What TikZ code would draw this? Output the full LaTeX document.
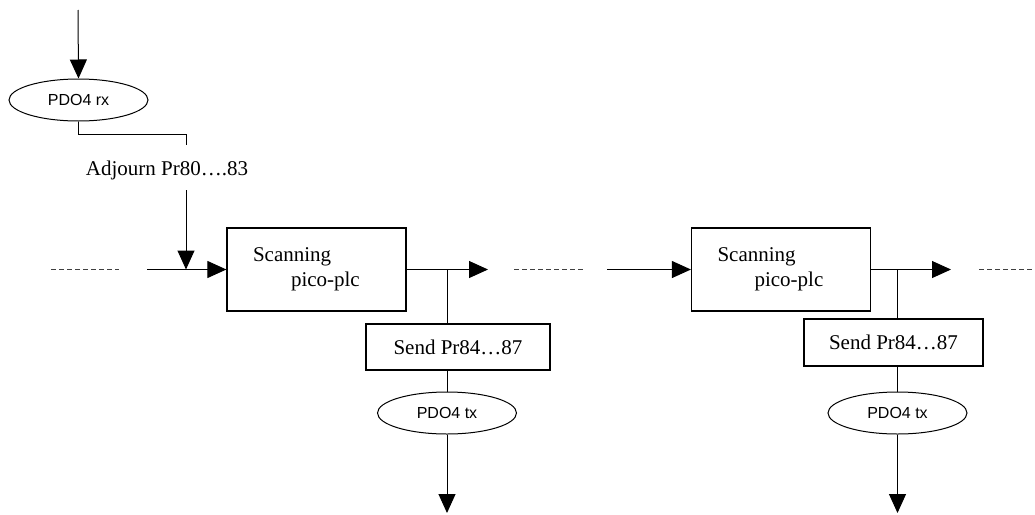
\documentclass[tikz,border=0pt]{standalone}
\usepackage{fontspec}
\setmainfont{Liberation Serif}
\newfontfamily\arialfont{Liberation Sans}
\usetikzlibrary{arrows.meta,shapes.geometric}
\begin{document}
\begin{tikzpicture}[x=1pt,y=-1pt,
  line width=1pt,
  arr/.style={-{Triangle[length=19pt,width=17pt]}},
  dashline/.style={draw=black!75,dash pattern=on 5pt off 3pt,line width=0.9pt},
  oval/.style={draw,ellipse,minimum width=139pt,minimum height=42pt,inner sep=0pt,font=\arialfont\fontsize{16}{18}\selectfont},
  scanbox/.style={draw,line width=1.2pt,rectangle,minimum width=179pt,minimum height=83pt,text width=127pt,inner xsep=26pt,inner ysep=0pt,align=left,font=\fontsize{21}{25}\selectfont},
  sendbox/.style={draw,line width=2pt,rectangle,minimum height=46pt,inner sep=0pt,font=\fontsize{21}{25}\selectfont},
  lbl/.style={inner sep=0pt,font=\fontsize{21}{25}\selectfont}
]
\useasboundingbox (0,0) rectangle (1035,514);

% top input
\coordinate (top) at (78,10);
\node[oval] (rx) at (78.5,100) {PDO4 rx};
\draw[arr] (top) -- (rx.north);
\coordinate (a1) at (186,134);
\coordinate (a2) at (186,145);
\node[lbl,anchor=base] (adj) at (167,175) {Adjourn Pr80….83};
\coordinate (a3) at (186,190);
\draw (rx.south) |- (a1) -- (a2);

% first block
\node[scanbox] (b1) at (316.5,269.5) {Scanning\\\hspace*{38pt}pico-plc};
\coordinate (d1a) at (51,269.5);
\coordinate (d1b) at (119,269.5);
\draw[dashline] (d1a) -- (d1b);
\coordinate (in1) at (147,269.5);
\coordinate (j1) at (186,269.5);
\draw[arr] (in1) -- (b1.west);
\draw[arr] (a3) -- (j1);
\coordinate (out1) at (488,269.5);
\draw[arr] (b1.east) -- (out1);
\coordinate (br1) at (447,269.5);
\node[sendbox,minimum width=184pt] (s1) at (458,347) {Send Pr84…87};
\draw (br1) -- (s1.north -| br1);
\node[oval] (tx1) at (447,413) {PDO4 tx};
\draw (s1.south -| tx1) -- (tx1.north);
\coordinate (end1) at (447,513);
\draw[arr] (tx1.south) -- (end1);

% middle dashes
\coordinate (d2a) at (514,269.5);
\coordinate (d2b) at (583,269.5);
\draw[dashline] (d2a) -- (d2b);

% second block
\node[scanbox,minimum width=178pt] (b2) at (781,269.5) {Scanning\\\hspace*{37pt}pico-plc};
\coordinate (in2) at (607,269.5);
\draw[arr] (in2) -- (b2.west);
\coordinate (out2) at (951,269.5);
\draw[arr] (b2.east) -- (out2);
\coordinate (br2) at (897,269.5);
\node[sendbox,minimum width=179pt,minimum height=47pt] (s2) at (893.5,342.5) {Send Pr84…87};
\draw (br2) -- (s2.north -| br2);
\node[oval] (tx2) at (897.5,413) {PDO4 tx};
\draw (s2.south -| tx2) -- (tx2.north);
\coordinate (end2) at (897.5,513);
\draw[arr] (tx2.south) -- (end2);

% right dashes
\coordinate (d3a) at (979,269.5);
\coordinate (d3b) at (1035,269.5);
\draw[dashline] (d3a) -- (d3b);
\end{tikzpicture}
\end{document}
